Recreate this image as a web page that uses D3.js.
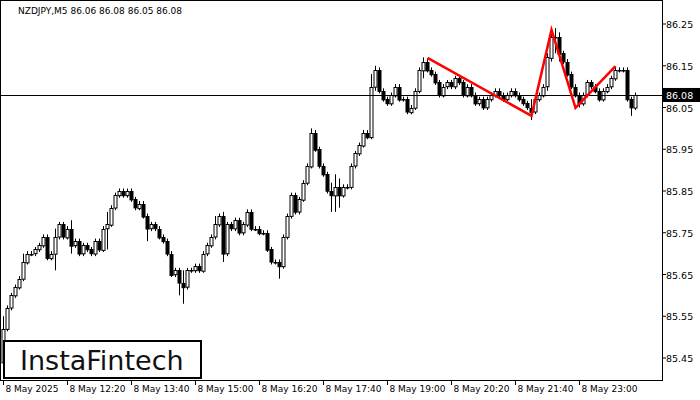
<!DOCTYPE html>
<html>
<head>
<meta charset="utf-8"/>
<script src="https://cdn.jsdelivr.net/npm/d3@7"></script>
<style>
body{margin:0;background:#fff;}
text{font-family:"DejaVu Sans",sans-serif;}
</style>
</head>
<body>
<svg id="chart" width="700" height="400"></svg>
<script>
// closing prices, one per 5-minute bar (open = previous close)
const closes = [85.52,85.57,85.60,85.62,85.64,85.68,85.70,85.70,85.71,85.72,
85.74,85.69,85.70,85.74,85.77,85.74,85.76,85.72,85.73,85.70,
85.72,85.71,85.70,85.73,85.71,85.76,85.77,85.81,85.84,85.85,
85.84,85.85,85.83,85.81,85.82,85.79,85.76,85.77,85.76,85.74,
85.73,85.70,85.65,85.66,85.63,85.62,85.66,85.66,85.67,85.66,
85.70,85.72,85.74,85.77,85.79,85.70,85.77,85.76,85.78,85.75,
85.77,85.80,85.76,85.76,85.75,85.75,85.71,85.68,85.68,85.67,
85.74,85.79,85.84,85.80,85.83,85.87,85.91,85.99,85.95,85.91,
85.89,85.85,85.84,85.86,85.84,85.86,85.86,85.91,85.94,85.96,
85.99,85.98,86.10,86.14,86.09,86.07,86.06,86.08,86.10,86.07,
86.07,86.04,86.05,86.09,86.14,86.16,86.14,86.13,86.11,86.08,
86.10,86.11,86.10,86.12,86.11,86.08,86.10,86.08,86.06,86.07,
86.05,86.07,86.08,86.09,86.08,86.07,86.08,86.09,86.08,86.07,
86.06,86.05,86.04,86.07,86.08,86.10,86.17,86.22,86.22,86.18,
86.16,86.13,86.10,86.08,86.06,86.08,86.11,86.10,86.09,86.07,
86.09,86.10,86.12,86.14,86.14,86.14,86.07,86.05,86.08];
const firstOpen = 85.44;
// notable wicks: [bar index, high, low]
const wicks = [[0,85.55,85.40],[5,85.70,85.64],[13,85.76,85.66],[17,85.78,85.70],[26,85.80,85.71],
[36,85.79,85.73],[44,85.66,85.60],[45,85.66,85.58],[53,85.79,85.74],[55,85.80,85.68],
[69,85.68,85.64],[77,86.00,85.96],[82,85.87,85.80],[83,85.89,85.80],[84,85.88,85.81],
[92,86.13,85.98],[93,86.15,86.09],[105,86.17,86.12],[132,86.07,86.02],[136,86.18,86.09],
[137,86.24,86.16],[138,86.24,86.18],[139,86.23,86.16],[144,86.08,86.05],[157,86.07,86.03]];
const pattern = [[106,86.169],[132,86.030],[137,86.236],[143,86.049],[153,86.149]];
const yTicks = [86.25,86.15,86.05,85.95,85.85,85.75,85.65,85.55,85.45];
const xLabels = ["8 May 2025","8 May 12:20","8 May 13:40","8 May 15:00","8 May 16:20","8 May 17:40","8 May 19:00","8 May 20:20","8 May 21:40","8 May 23:00"];
const lastPrice = 86.08;

const svg = d3.select('#chart');
const plotW = 662, plotH = 380;
const x = d3.scaleLinear().domain([0,1]).range([3,7]);
const y = d3.scaleLinear().domain([86.25,85.45]).range([24,358]);

const bars = closes.map((c,i) => {
  const o = i === 0 ? firstOpen : closes[i-1];
  return {i, o, c, h: Math.max(o,c)+0.006, l: Math.min(o,c)-0.006};
});
wicks.forEach(([i,h,l]) => { bars[i].h = Math.max(h, bars[i].h); bars[i].l = Math.min(l, bars[i].l); });

const g = svg.append('g');
g.selectAll('line.wick').data(bars).enter().append('line')
  .attr('x1', d => x(d.i)+0.5).attr('x2', d => x(d.i)+0.5)
  .attr('y1', d => y(d.h)).attr('y2', d => y(d.l))
  .attr('stroke','#000').attr('stroke-width',1);
g.selectAll('rect.body').data(bars).enter().append('rect')
  .attr('x', d => x(d.i)-1).attr('width', 3)
  .attr('y', d => Math.round(y(Math.max(d.o,d.c)))+0.5)
  .attr('height', d => Math.max(0.5, Math.abs(y(d.o)-y(d.c))))
  .attr('fill', d => d.c >= d.o ? '#fff' : '#000')
  .attr('stroke','#000').attr('stroke-width',1);

// current price line
svg.append('line').attr('x1',0).attr('x2',plotW).attr('y1',Math.round(y(lastPrice))+0.5).attr('y2',Math.round(y(lastPrice))+0.5).attr('stroke','#000');

// pattern
svg.append('path').datum(pattern)
  .attr('d', d3.line().x(d => x(d[0])+0.5).y(d => y(d[1])))
  .attr('fill','none').attr('stroke','#f00').attr('stroke-width',2.5);

// frame
svg.append('rect').attr('x',0.5).attr('y',0.5).attr('width',plotW).attr('height',plotH).attr('fill','none').attr('stroke','#000');

// y axis
const ya = svg.append('g');
yTicks.forEach(t => {
  ya.append('line').attr('x1',plotW).attr('x2',plotW+4).attr('y1',y(t)).attr('y2',y(t)).attr('stroke','#000');
  ya.append('text').attr('x',666).attr('y',y(t)+4).attr('font-size',9.5).attr('fill','#000').text(t.toFixed(2));
});
svg.append('rect').attr('x',plotW+1).attr('y',y(lastPrice)-7).attr('width',37).attr('height',14).attr('fill','#000');
svg.append('text').attr('x',666).attr('y',y(lastPrice)+4).attr('font-size',9.5).attr('fill','#fff').text(lastPrice.toFixed(2));

// x axis
xLabels.forEach((l,k) => {
  const px = x(16*k)+0.5;
  svg.append('line').attr('x1',px).attr('x2',px).attr('y1',plotH).attr('y2',plotH+5).attr('stroke','#000');
  svg.append('text').attr('x',px+2).attr('y',392).attr('font-size',9).attr('fill','#000').text(l);
});

// title
svg.append('text').attr('x',18).attr('y',14).attr('font-size',9).attr('fill','#000').text('NZDJPY,M5  86.06 86.08 86.05 86.08');

// logo
svg.append('rect').attr('x',4).attr('y',341).attr('width',197).attr('height',37).attr('fill','#fff').attr('stroke','#000').attr('stroke-width',2);
svg.append('text').attr('x',20).attr('y',370).attr('font-family','Roboto, sans-serif').attr('font-size',27).attr('fill','#111').text('InstaFintech');
</script>
</body>
</html>
